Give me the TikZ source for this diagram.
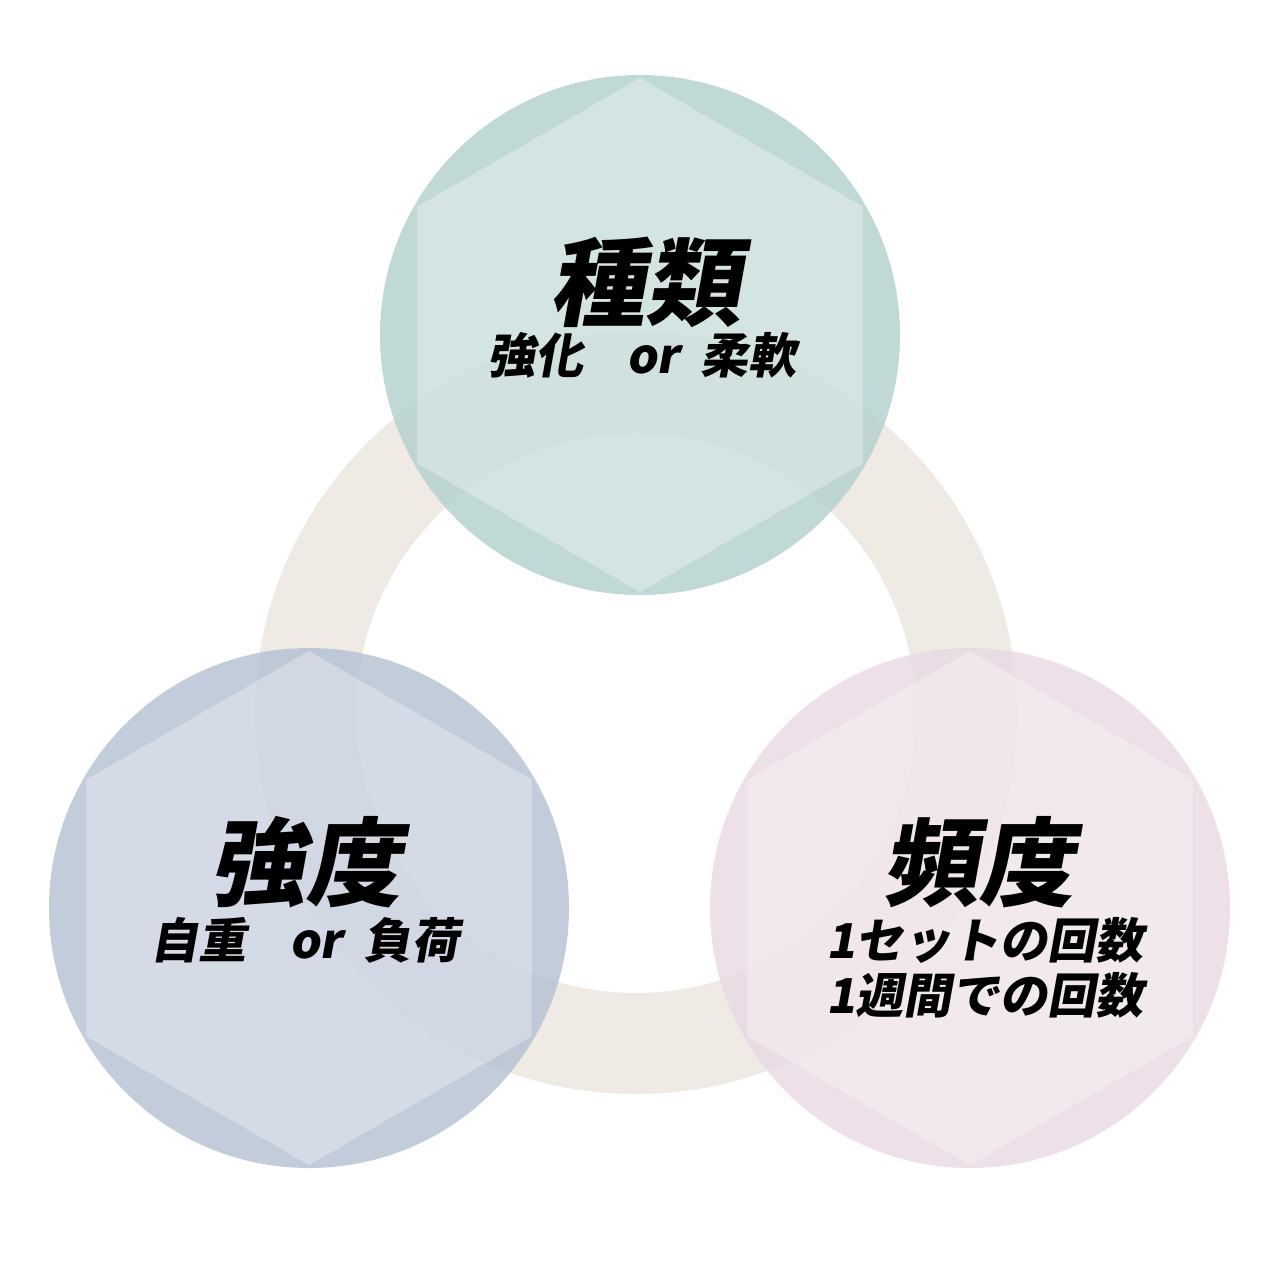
\documentclass[tikz,border=0pt]{standalone}
\usepackage{fontspec}
\IfFontExistsTF{Noto Sans CJK JP Black}
  {\newfontfamily\jpfont[FakeSlant=0.18]{Noto Sans CJK JP Black}}
  {\newfontfamily\jpfont[FakeSlant=0.18,FakeBold=3]{Noto Sans CJK JP}}
\definecolor{ringbeige}{RGB}{239,235,228}
\definecolor{tealc}{RGB}{182,210,207}
\definecolor{bluec}{RGB}{183,195,213}
\definecolor{pinkc}{RGB}{234,218,228}

\begin{document}
\begin{tikzpicture}[x=1pt,y=-1pt,
    bubble/.style={fill=#1,fill opacity=0.85},
    hexa/.style={fill=white,fill opacity=0.3},
    titletext/.style={font=\jpfont\fontsize{96}{100}\selectfont},
    subtext/.style={font=\jpfont\fontsize{48}{55}\selectfont,align=center}]
        \useasboundingbox (0,0) rectangle (1280,1280);
        \coordinate (ring) at (636,713);
        \coordinate (kind) at (640,335);
        \coordinate (load) at (309,908);
        \coordinate (freq) at (970,908);
        % ring behind
        \fill[ringbeige,even odd rule] (ring) circle[radius=381pt] (ring) circle[radius=280pt];
        % three circles with hexagons
        \fill[bubble=tealc] (kind) circle[radius=260pt];
        \fill[hexa] (kind) +(90:257) -- +(150:257) -- +(210:257) -- +(270:257) -- +(330:257) -- +(30:257) -- cycle;
        \fill[bubble=bluec] (load) circle[radius=260pt];
        \fill[hexa] (load) +(90:257) -- +(150:257) -- +(210:257) -- +(270:257) -- +(330:257) -- +(30:257) -- cycle;
        \fill[bubble=pinkc] (freq) circle[radius=260pt];
        \fill[hexa] (freq) +(90:257) -- +(150:257) -- +(210:257) -- +(270:257) -- +(330:257) -- +(30:257) -- cycle;
        % labels
        \node[titletext] (kindtitle) at (645,282) {種類};
        \node[subtext] (kindsub) at (642,355) {強化\hspace{0.9em}or\hspace{0.45em}柔軟};
        \node[titletext] (loadtitle) at (305,862) {強度};
        \node[subtext] (loadsub) at (305,940) {自重\hspace{0.9em}or\hspace{0.45em}負荷};
        \node[titletext] (freqtitle) at (978,862) {頻度};
        \node[subtext] (freqsub) at (985,968) {1セットの回数\\1週間での回数};
    \end{tikzpicture}
\end{document}
